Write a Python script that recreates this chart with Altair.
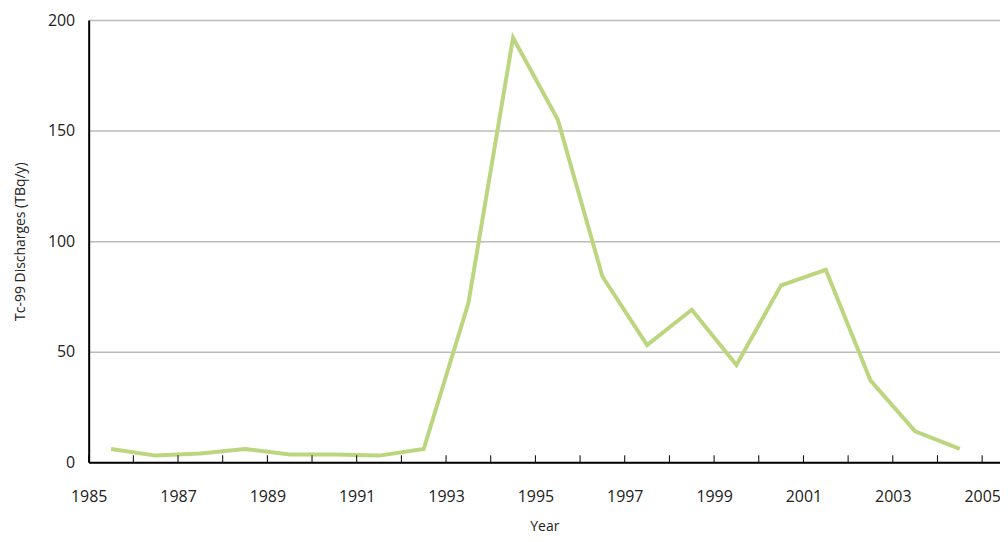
import altair as alt
import pandas as pd

years = [1985.5 + i for i in range(20)]
discharges = [6, 3, 4, 6, 3.5, 3.5, 3, 6, 72, 192, 155, 84, 53, 69, 44, 80, 87, 37, 14, 6]
tick_years = list(range(1985, 2006))

source = pd.DataFrame({"Year": years, "Discharge": discharges})
ticks = pd.DataFrame({"Year": tick_years})

x_scale = alt.Scale(domain=[1985, 2005.4], nice=False, zero=False)

line = alt.Chart(source).mark_line(color="#bcd67f", strokeWidth=4).encode(
    alt.X("Year:Q", title="Year", scale=x_scale,
          axis=alt.Axis(values=tick_years, grid=False, format="d",
                        labelExpr="datum.value % 2 == 1 ? datum.label : ''",
                        labelFlush=False, tickSize=0, labelPadding=26,
                        titlePadding=16)),
    alt.Y("Discharge:Q", title="Tc-99 Discharges (TBq/y)",
          scale=alt.Scale(domain=[0, 200], nice=False),
          axis=alt.Axis(values=[0, 50, 100, 150, 200], tickSize=0,
                        labelPadding=14, titlePadding=20,
                        gridColor="#bbbbbb", gridWidth=1.5))
)

# inward tick marks on the x axis
tick_marks = alt.Chart(ticks).mark_rule(color="#000", strokeWidth=1).encode(
    x=alt.X("Year:Q", scale=x_scale),
    y=alt.value(437), y2=alt.value(444)
)

chart = alt.layer(line, tick_marks).properties(
    width=915, height=444,
    autosize=alt.AutoSizeParams(type="none"),
    padding={"left": 81, "top": 11, "right": 0, "bottom": 76}
).configure_axis(
    labelFont="Open Sans", titleFont="Open Sans", labelFontSize=16,
    titleFontSize=14, titleFontWeight="normal", labelColor="#222",
    titleColor="#222", domainColor="#000", domainWidth=2
).configure_view(stroke=None)

chart.save("out.html", embed_options={"renderer": "svg", "actions": False})
